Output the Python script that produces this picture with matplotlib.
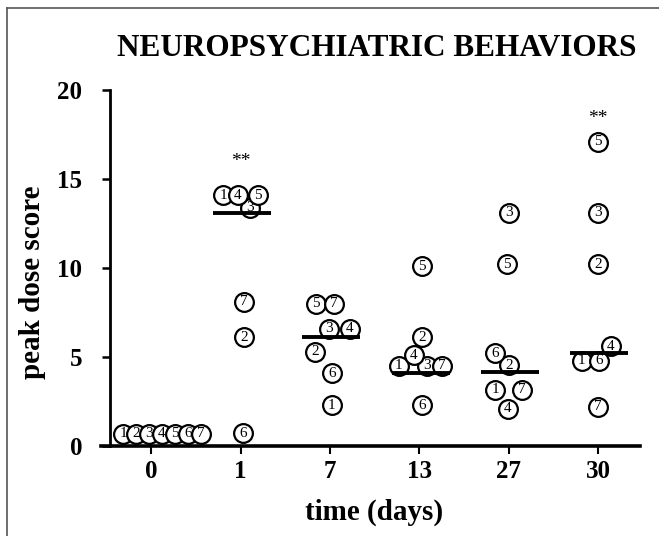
import matplotlib
matplotlib.use("Agg")
import matplotlib.pyplot as plt
from matplotlib.lines import Line2D

# ---- data ----
days = ['0', '1', '7', '13', '27', '30']
subjects = ['1', '2', '3', '4', '5', '6', '7']
# peak dose score per day, subject order 1..7 (as displayed)
score_d0 = [0.7, 0.7, 0.7, 0.7, 0.7, 0.7, 0.7]
score_d1 = [14.1, 6.1, 13.4, 14.1, 14.1, 0.73, 8.1]
score_d7 = [2.3, 5.3, 6.6, 6.6, 8.0, 4.1, 8.0]
score_d13 = [4.5, 6.1, 4.5, 5.1, 10.1, 2.3, 4.5]
score_d27 = [3.15, 4.55, 13.1, 2.1, 10.2, 5.2, 3.15]
score_d30 = [4.8, 10.2, 13.1, 5.6, 17.1, 4.8, 2.2]
scores = [score_d0, score_d1, score_d7, score_d13, score_d27, score_d30]
# horizontal jitter of each circle (category units)
jit_d0 = [-0.316, -0.171, -0.025, 0.120, 0.266, 0.411, 0.557]
jit_d1 = [-0.197, 0.04, 0.105, -0.03, 0.19, 0.03, 0.04]
jit_d7 = [0.02, -0.17, -0.01, 0.224, -0.157, 0.02, 0.045]
jit_d13 = [-0.23, 0.03, 0.085, -0.06, 0.03, 0.03, 0.25]
jit_d27 = [-0.15, 0.0, 0.0, -0.01, -0.02, -0.15, 0.15]
jit_d30 = [-0.18, 0.0, 0.0, 0.145, 0.0, 0.01, 0.0]
jitters = [jit_d0, jit_d1, jit_d7, jit_d13, jit_d27, jit_d30]
medians = [None, 13.1, 6.1, 4.1, 4.15, 5.2]
stars = ['', '**', '', '', '', '**']
star_y = [0, 16.0, 0, 0, 0, 18.4]
yticks = [0, 5, 10, 15, 20]

FONT = 'Liberation Serif'

fig = plt.figure(figsize=(6.59, 5.36), dpi=100)
ax = fig.add_axes([0.1533, 0.1679, 0.971 - 0.1533, 0.832 - 0.1679])

for i, (vals, jit) in enumerate(zip(scores, jitters)):
    for k, (v, j) in enumerate(zip(vals, jit)):
        ax.plot(i + j, v, marker='o', ms=13.5, mfc='white', mec='black',
                mew=1.6, ls='none', zorder=3 + 2 * k, clip_on=False)
        ax.text(i + j, v, subjects[k], ha='center', va='center',
                fontsize=11, family=FONT, zorder=4 + 2 * k, clip_on=False)
    if medians[i] is not None:
        ax.plot([i - 0.31, i + 0.34], [medians[i], medians[i]], color='black',
                lw=2.8, zorder=30, solid_capstyle='butt')
    if stars[i]:
        ax.text(i, star_y[i], stars[i], ha='center', va='center',
                fontsize=14, family=FONT, zorder=30)

ax.set_xlim(-0.562, 5.468)
ax.set_ylim(0, 20)
ax.spines['top'].set_visible(False)
ax.spines['right'].set_visible(False)
ax.spines['left'].set_position(('data', -0.462))
ax.spines['left'].set_linewidth(2.0)
ax.spines['bottom'].set_linewidth(2.6)
ax.spines['bottom'].set_zorder(40)

ax.set_xticks(range(len(days)))
ax.set_xticklabels(days)
ax.set_yticks(yticks)
ax.set_yticklabels([str(t) for t in yticks])
ax.tick_params(axis='y', direction='out', length=6, width=1.8, pad=14)
ax.tick_params(axis='x', direction='out', length=6, width=1.5, pad=4)
for lab in ax.get_xticklabels() + ax.get_yticklabels():
    lab.set_family(FONT)
    lab.set_fontweight('bold')
    lab.set_fontsize(18)

fig.text(0.571, 0.910, 'NEUROPSYCHIATRIC BEHAVIORS', ha='center', va='center',
         fontsize=22.5, fontweight='bold', family=FONT)
fig.text(0.568, 0.045, 'time (days)', ha='center', va='center',
         fontsize=21, fontweight='bold', family=FONT)
fig.text(0.050, 0.473, 'peak dose score', ha='center', va='center',
         rotation=90, fontsize=21, fontweight='bold', family=FONT)

# page frame (left and top edges)
fig.add_artist(Line2D([0.011, 0.011], [0.0, 0.985], transform=fig.transFigure,
                      color='#555555', lw=1.2))
fig.add_artist(Line2D([0.011, 1.0], [0.985, 0.985], transform=fig.transFigure,
                      color='#555555', lw=1.2))

fig.savefig('out.png', dpi=100)
